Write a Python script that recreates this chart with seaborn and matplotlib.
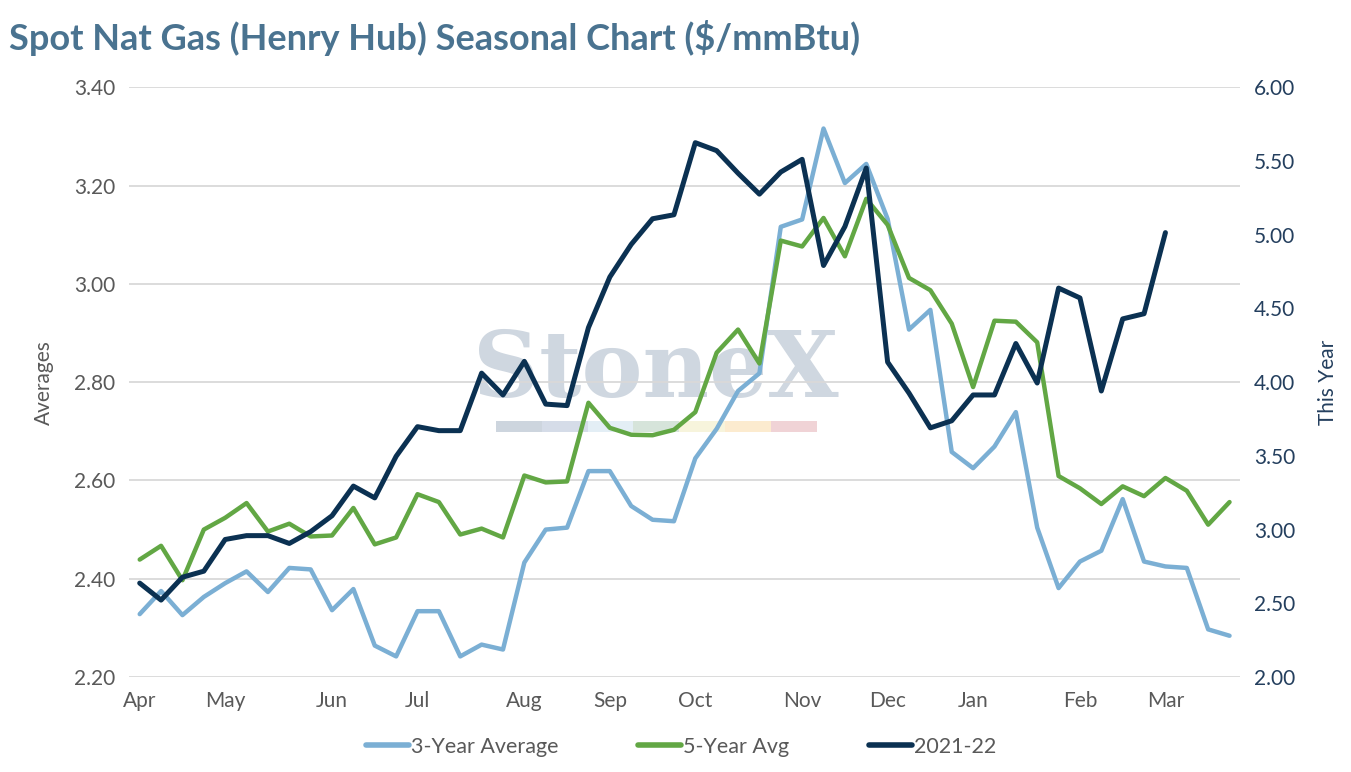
import numpy as np
import pandas as pd
import seaborn as sns
import matplotlib.pyplot as plt
from matplotlib.lines import Line2D

sns.set_style("white")
plt.rcParams['font.family'] = ['Lato', 'DejaVu Sans']

# weekly values, first week of April through end of March
avg3 = [2.328, 2.375, 2.326, 2.363, 2.391, 2.415, 2.373, 2.422, 2.419, 2.336,
        2.379, 2.264, 2.242, 2.334, 2.334, 2.242, 2.266, 2.256, 2.433, 2.500,
        2.504, 2.619, 2.619, 2.548, 2.520, 2.517, 2.645, 2.705, 2.782, 2.818,
        3.116, 3.131, 3.316, 3.205, 3.244, 3.132, 2.907, 2.947, 2.658, 2.625,
        2.669, 2.739, 2.504, 2.381, 2.435, 2.457, 2.562, 2.435, 2.425, 2.422,
        2.297, 2.284]
avg5 = [2.439, 2.467, 2.397, 2.500, 2.524, 2.554, 2.496, 2.512, 2.486, 2.488,
        2.544, 2.470, 2.484, 2.572, 2.556, 2.490, 2.502, 2.484, 2.610, 2.596,
        2.598, 2.758, 2.707, 2.693, 2.692, 2.703, 2.739, 2.860, 2.907, 2.838,
        3.088, 3.076, 3.134, 3.056, 3.173, 3.120, 3.012, 2.987, 2.919, 2.790,
        2.925, 2.923, 2.881, 2.609, 2.584, 2.552, 2.588, 2.568, 2.605, 2.579,
        2.510, 2.556]
this_year = [2.637, 2.522, 2.677, 2.718, 2.933, 2.959, 2.959, 2.906, 2.986, 3.094,
             3.295, 3.215, 3.497, 3.698, 3.671, 3.671, 4.061, 3.913, 4.141, 3.851,
             3.841, 4.370, 4.713, 4.934, 5.108, 5.135, 5.624, 5.570, 5.417, 5.275,
             5.425, 5.511, 4.791, 5.055, 5.452, 4.136, 3.926, 3.690, 3.738, 3.913,
             3.913, 4.262, 3.994, 4.638, 4.571, 3.940, 4.429, 4.464, 5.014]

months = ["Apr", "May", "Jun", "Jul", "Aug", "Sep", "Oct", "Nov", "Dec", "Jan", "Feb", "Mar"]
month_week = [0, 4, 9, 13, 18, 22, 26, 31, 35, 39, 44, 48]

df = pd.DataFrame({"week": np.arange(len(avg3)), "avg3": avg3, "avg5": avg5})
df_ty = pd.DataFrame({"week": np.arange(len(this_year)), "ty": this_year})

c_light = "#7BAFD4"
c_green = "#62A744"
c_navy = "#0B3152"
grey_txt = "#595959"
navy_txt = "#243F5E"

fig = plt.figure(figsize=(13.51, 7.72), dpi=100)
ax = fig.add_axes([0.0955, 0.123, 0.8225, 0.764])
ax2 = ax.twinx()

# watermark
ax.text(0.474, 0.518, "StoneX", transform=ax.transAxes, ha="center", va="center",
        fontsize=66, family="DejaVu Serif", fontweight="bold", color="#CFD7E0", zorder=0)
wm_cols = ["#CDD5DE", "#D5DCE8", "#E3EEF5", "#D6E4DA", "#F7F4DC", "#FCEBCF", "#F0D3D6"]
for i, c in enumerate(wm_cols):
    ax.add_patch(plt.Rectangle((0.330 + i * 0.0413, 0.415), 0.0413, 0.019,
                               transform=ax.transAxes, color=c, lw=0, zorder=0))

sns.lineplot(data=df, x="week", y="avg3", ax=ax, color=c_light, lw=3.2, zorder=3)
sns.lineplot(data=df, x="week", y="avg5", ax=ax, color=c_green, lw=3.2, zorder=3)
sns.lineplot(data=df_ty, x="week", y="ty", ax=ax2, color=c_navy, lw=3.6, zorder=4)

ax.set_xlim(-0.5, 51.5)
ax.set_ylim(2.2, 3.4)
ax2.set_ylim(2.0, 6.0)
ax.set_yticks(np.arange(2.2, 3.41, 0.2))
ax.set_yticklabels([f"{v:.2f}" for v in np.arange(2.2, 3.41, 0.2)])
ax2.set_yticks(np.arange(2.0, 6.01, 0.5))
ax2.set_yticklabels([f"{v:.2f}" for v in np.arange(2.0, 6.01, 0.5)])
ax.set_xticks(month_week)
ax.set_xticklabels(months)

ax.grid(axis="y", color="#D9D9D9", lw=1.3)
ax.set_axisbelow(True)
for a in (ax, ax2):
    for s in a.spines.values():
        s.set_visible(False)
    a.tick_params(length=0)
ax.tick_params(axis="both", labelsize=15, colors=grey_txt, pad=10)
ax2.tick_params(axis="y", labelsize=15, colors=navy_txt, pad=10)

ax.set_xlabel("")
ax.set_ylabel("Averages", fontsize=15, color=grey_txt, labelpad=14)
ax2.set_ylabel("This Year", fontsize=15, color=navy_txt, labelpad=16)

fig.text(0.007, 0.951, "Spot Nat Gas (Henry Hub) Seasonal Chart ($/mmBtu)",
         fontsize=26, fontweight="bold", color="#4A7390", va="center")

handles = [Line2D([], [], color=c_light, lw=4, solid_capstyle="round"),
           Line2D([], [], color=c_green, lw=4, solid_capstyle="round"),
           Line2D([], [], color=c_navy, lw=4, solid_capstyle="round")]
fig.legend(handles, ["3-Year Average", "5-Year Avg", "2021-22"], loc="center",
           bbox_to_anchor=(0.504, 0.033), ncol=3, frameon=False, fontsize=15.5,
           handlelength=2.0, handletextpad=0.1, columnspacing=3.7,
           labelcolor=grey_txt)

fig.savefig("out.png", dpi=100)
